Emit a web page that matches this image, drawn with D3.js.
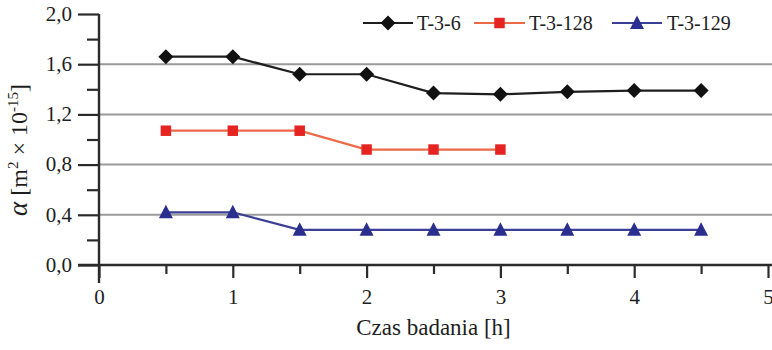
<!DOCTYPE html>
<html>
<head>
<meta charset="utf-8">
<script src="https://cdn.jsdelivr.net/npm/d3@7"></script>
<style>
  body { margin: 0; background: #fff; }
</style>
</head>
<body>
<svg id="chart" width="772" height="350"></svg>
<script>
// Measurement times [h]
const times = [0.5, 1, 1.5, 2, 2.5, 3, 3.5, 4, 4.5];
// Permeability coefficient α [m² × 10⁻¹⁵] per sample
const t36   = [1.66, 1.66, 1.52, 1.52, 1.37, 1.36, 1.38, 1.39, 1.39];
const t3128 = [1.07, 1.07, 1.07, 0.92, 0.92, 0.92];
const t3129 = [0.42, 0.42, 0.28, 0.28, 0.28, 0.28, 0.28, 0.28, 0.28];
const seriesNames = ["T-3-6", "T-3-128", "T-3-129"];

const yMajor = [0, 0.4, 0.8, 1.2, 1.6, 2.0];
const yMinor = [0.2, 0.6, 1.0, 1.4, 1.8];
const xMajor = [0, 1, 2, 3, 4, 5];
const xMinor = [0.5, 1.5, 2.5, 3.5, 4.5];
const gridValues = [0.4, 0.8, 1.2, 1.6];

const FONT = '"Liberation Serif"';
const svg = d3.select("#chart");
const x = d3.scaleLinear().domain([0, 5]).range([99, 768]);
const y = d3.scaleLinear().domain([0, 2]).range([265, 14]);
const axisColor = "#2b2b2b";
const textColor = "#1e1e1e";

// horizontal grid
svg.append("g").selectAll("line").data(gridValues).join("line")
  .attr("x1", x(0)).attr("x2", 772)
  .attr("y1", d => y(d)).attr("y2", d => y(d))
  .attr("stroke", "#9a9a9a").attr("stroke-width", 2);

// y axis with major and minor ticks
const yAxisMaj = d3.axisLeft(y).tickValues(yMajor).tickSize(21).tickPadding(6)
  .tickFormat(d => d3.format(".1f")(d).replace(".", ","));
const yAxisMin = d3.axisLeft(y).tickValues(yMinor).tickSize(12).tickFormat("");
const gy = svg.append("g").attr("transform", `translate(${x(0)},0)`);
gy.call(yAxisMaj);
gy.append("g").call(yAxisMin);
gy.attr("font-family", null).attr("font-size", null);
gy.selectAll("g").attr("font-family", null).attr("font-size", null);
gy.selectAll(".domain").remove();
gy.selectAll("line").attr("stroke", axisColor).attr("stroke-width", 2.2);
gy.selectAll("text").style("font-family", FONT).style("font-size", "21px")
  .attr("fill", textColor).attr("dy", "0.3em");

// x axis with major and minor ticks
const xAxisMaj = d3.axisBottom(x).tickValues(xMajor).tickSize(13).tickPadding(11)
  .tickFormat(d3.format("d"));
const xAxisMin = d3.axisBottom(x).tickValues(xMinor).tickSize(9).tickFormat("");
const gx = svg.append("g").attr("transform", `translate(0,${y(0)})`);
gx.call(xAxisMaj);
gx.append("g").call(xAxisMin);
gx.attr("font-family", null).attr("font-size", null);
gx.selectAll("g").attr("font-family", null).attr("font-size", null);
gx.selectAll(".domain").remove();
gx.selectAll("line").attr("stroke", axisColor).attr("stroke-width", 2.2);
gx.selectAll("text").style("font-family", FONT).style("font-size", "21px")
  .attr("fill", textColor);

// axis lines
svg.append("line").attr("x1", x(0)).attr("x2", x(0)).attr("y1", y(2)).attr("y2", y(0) + 18)
  .attr("stroke", axisColor).attr("stroke-width", 2.4);
svg.append("line").attr("x1", x(0) - 21).attr("x2", 772).attr("y1", y(0)).attr("y2", y(0))
  .attr("stroke", axisColor).attr("stroke-width", 2.4);

// axis titles
svg.append("text").attr("x", (x(0) + x(5)) / 2).attr("y", 335)
  .attr("text-anchor", "middle").style("font-family", FONT).style("font-size", "23px")
  .attr("fill", textColor).text("Czas badania [h]");

const yt = svg.append("text")
  .attr("transform", "translate(27,150) rotate(-90)")
  .attr("text-anchor", "middle").style("font-family", FONT).style("font-size", "24px")
  .attr("fill", textColor);
yt.append("tspan").style("font-style", "italic").style("font-size", "27px").text("α");
yt.append("tspan").text(" [m");
yt.append("tspan").attr("dy", -9).style("font-size", "15px").text("2");
yt.append("tspan").attr("dy", 9).text(" × 10");
yt.append("tspan").attr("dy", -9).style("font-size", "15px").text("-15");
yt.append("tspan").attr("dy", 9).text("]");

// marker shapes
const diamondPath = "M0,-7.5L7.5,0L0,7.5L-7.5,0Z";
const squarePath = d3.symbol(d3.symbolSquare, 110)();
const trianglePath = "M0,-7.5L7,6L-7,6Z";

const series = [
  { name: seriesNames[0], values: t36, line: "#1e1e1e", fill: "#111", path: diamondPath },
  { name: seriesNames[1], values: t3128, line: "#ec6a48", fill: "#e52421", path: squarePath },
  { name: seriesNames[2], values: t3129, line: "#3b3f96", fill: "#2a2f8f", path: trianglePath }
];

const line = d3.line().x((d, i) => x(times[i])).y(d => y(d));

series.forEach(s => {
  const g = svg.append("g");
  g.append("path").datum(s.values).attr("d", line)
    .attr("fill", "none").attr("stroke", s.line).attr("stroke-width", 2.2);
  g.selectAll("path.m").data(s.values).join("path").attr("class", "m")
    .attr("d", s.path)
    .attr("transform", (d, i) => `translate(${x(times[i])},${y(d)})`)
    .attr("fill", s.fill);
});

// legend
const legendItems = [
  { s: series[0], x0: 363, x1: 413, tx: 417 },
  { s: series[1], x0: 474, x1: 525, tx: 529 },
  { s: series[2], x0: 612, x1: 662, tx: 667 }
];
const lg = svg.append("g");
legendItems.forEach(it => {
  const ly = 23;
  lg.append("line").attr("x1", it.x0).attr("x2", it.x1).attr("y1", ly).attr("y2", ly)
    .attr("stroke", it.s.line).attr("stroke-width", 2.2);
  lg.append("path").attr("d", it.s.path)
    .attr("transform", `translate(${(it.x0 + it.x1) / 2},${ly})`).attr("fill", it.s.fill);
  lg.append("text").attr("x", it.tx).attr("y", ly + 7).style("font-family", FONT)
    .style("font-size", "20px").attr("fill", textColor).text(it.s.name);
});
</script>
</body>
</html>
